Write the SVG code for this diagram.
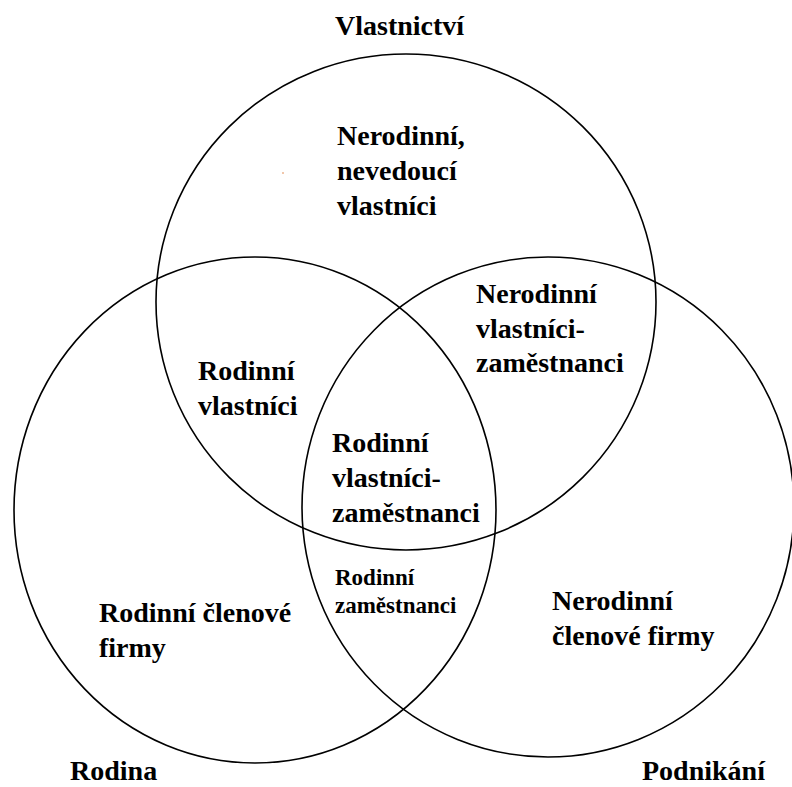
<svg xmlns="http://www.w3.org/2000/svg" width="792" height="787" viewBox="0 0 792 787">
<style>
.c{fill:none;stroke:#000;stroke-width:1.6}
.t{font-family:"Liberation Serif","Times New Roman",serif;font-weight:bold;font-size:28px;fill:#000}
.s{font-size:23px}
</style>
<rect width="792" height="787" fill="#fff"/>
<g id="connectors"></g>
<g id="vlastnictvi">
<ellipse class="c" cx="406" cy="302" rx="250" ry="248"/>
<text class="t" x="335" y="35">Vlastnictví</text>
</g>
<g id="rodina">
<ellipse class="c" cx="255" cy="510" rx="241" ry="253"/>
<text class="t" x="70" y="780">Rodina</text>
</g>
<g id="podnikani">
<ellipse class="c" cx="548" cy="507" rx="246" ry="250"/>
<text class="t" x="642" y="780">Podnikání</text>
</g>
<g id="nerodinni-nevedouci">
<text class="t" x="337" y="145">Nerodinní,</text>
<text class="t" x="337" y="180">nevedoucí</text>
<text class="t" x="337" y="215">vlastníci</text>
</g>
<g id="nerodinni-vz">
<text class="t" x="476" y="303">Nerodinní</text>
<text class="t" x="476" y="338">vlastníci-</text>
<text class="t" x="476" y="372">zaměstnanci</text>
</g>
<g id="rodinni-vlastnici">
<text class="t" x="198" y="380">Rodinní</text>
<text class="t" x="198" y="415">vlastníci</text>
</g>
<g id="rodinni-vz">
<text class="t" x="332" y="452">Rodinní</text>
<text class="t" x="332" y="487">vlastníci-</text>
<text class="t" x="332" y="522">zaměstnanci</text>
</g>
<g id="rodinni-zam">
<text class="t s" x="335" y="585">Rodinní</text>
<text class="t s" x="335" y="613">zaměstnanci</text>
</g>
<g id="rodinni-clenove">
<text class="t" x="99" y="622">Rodinní členové</text>
<text class="t" x="99" y="657">firmy</text>
</g>
<g id="nerodinni-clenove">
<text class="t" x="552" y="610">Nerodinní</text>
<text class="t" x="552" y="645">členové firmy</text>
</g>
<circle cx="283" cy="173" r="0.8" fill="#e08040"/>
</svg>
